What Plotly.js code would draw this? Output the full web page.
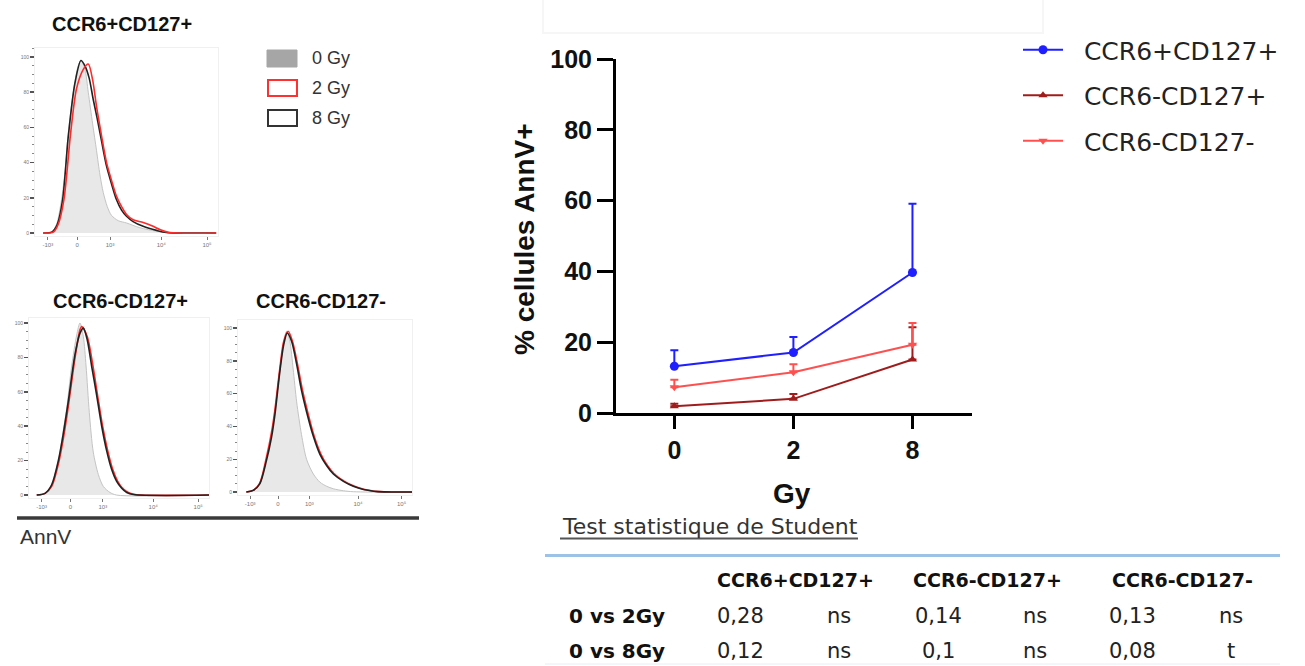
<!DOCTYPE html>
<html>
<head>
<meta charset="utf-8">
<script src="https://cdn.plot.ly/plotly-3.0.1.min.js"></script>
<style>
  html, body { margin: 0; padding: 0; background: #ffffff; }
  #chart { width: 1305px; height: 666px; }
</style>
</head>
<body>
<div id="chart"></div>
<script>
// ---------------- DATA ----------------
// Main line chart: % AnnV+ cells vs dose (Gy)
const doses = ["0", "2", "8"];
const seriesNames = ["CCR6+CD127+", "CCR6-CD127+", "CCR6-CD127-"];
const ccr6PosCd127Pos = [13.2, 17.1, 39.7];
const ccr6PosCd127PosErr = [4.5, 4.4, 19.4];
const ccr6NegCd127Pos = [1.9, 4.0, 15.1];
const ccr6NegCd127PosErr = [0.7, 1.4, 9.1];
const ccr6NegCd127Neg = [7.3, 11.5, 19.3];
const ccr6NegCd127NegErr = [2.1, 2.3, 6.1];

// Histograms (AnnV, display channel units 0-100, % of max)
const histTitles = ["CCR6+CD127+", "CCR6-CD127+", "CCR6-CD127-"];
const histDoseLabels = ["0 Gy", "2 Gy", "8 Gy"];
const histTickVals = [7, 23, 41, 69, 94];
const histTickText = ["-10³", "0", "10³", "10⁴", "10⁵"];
const histYTicks = [0, 20, 40, 60, 80, 100];

const h1GrayX = [4.5, 9.1, 11.8, 14.5, 16.4, 18.2, 20.9, 23.6, 25.1, 27.3, 29.1, 31.5, 33.6, 35.5, 37.3, 39.5, 41.8, 45.5, 50.0, 57.3, 66.4, 75.5, 99];
const h1GrayY = [0, 0.5, 5, 19, 35, 57, 80, 95, 98, 93, 80, 62, 47, 33, 23, 15, 10, 7, 5.7, 3, 1, 0, 0];
const h1RedX = [4.5, 10.0, 12.7, 15.8, 19.5, 22.7, 26.4, 29.1, 31.5, 33.6, 36.4, 39.1, 41.8, 44.5, 47.3, 50.0, 53.6, 59.1, 64.5, 68.2, 73.6, 99];
const h1RedY = [0, 0.5, 5, 19, 57, 82, 93, 96, 87, 72, 55, 40, 30, 21, 15, 10.5, 7.5, 6, 3.8, 2, 0.3, 0];
const h1BlackX = [4.5, 9.1, 12.2, 15.1, 18.2, 21.8, 25.1, 27.3, 29.6, 31.8, 34.0, 36.4, 39.1, 41.8, 44.5, 47.3, 50.0, 53.6, 59.1, 66.4, 71.8, 99];
const h1BlackY = [0, 0.5, 5, 19, 55, 85, 98, 95, 88, 76, 65, 52, 38, 28, 19, 13, 9.5, 6.5, 3.8, 1.5, 0.3, 0];

const h2GrayX = [4.3, 8.0, 11.7, 16.3, 19.1, 20.9, 23.7, 26.5, 28.3, 30.2, 31.7, 33.5, 35.7, 38.5, 41.3, 45.0, 48.7, 100];
const h2GrayY = [0, 0.5, 4, 20, 38, 50, 75, 93, 100, 92, 75, 48, 25, 12, 5, 1.5, 0, 0];
const h2RedX = [4.3, 8.9, 12.6, 16.3, 19.1, 21.9, 25.6, 28.3, 29.3, 32.4, 35.4, 38.1, 40.9, 43.7, 46.5, 49.3, 52.0, 55.2, 58.9, 100];
const h2RedY = [0, 1, 5, 18, 33, 52, 80, 96, 98, 92, 76, 58, 40, 26, 15, 8, 4, 1.5, 0.3, 0];
const h2BlackX = [4.3, 8.9, 12.6, 16.3, 19.1, 21.9, 25.6, 28.3, 30.2, 32.4, 34.8, 37.6, 40.4, 43.1, 45.9, 48.7, 51.5, 54.3, 58.0, 100];
const h2BlackY = [0, 1, 6, 20, 36, 55, 82, 94, 97, 90, 75, 58, 40, 26, 15, 8, 4, 1.5, 0.3, 0];

const h3GrayX = [4.8, 8.7, 12.5, 16.3, 19.2, 21.2, 24.0, 26.3, 27.9, 29.8, 31.7, 33.7, 36.5, 39.4, 43.3, 47.1, 51.0, 54.8, 60.6, 66.3, 100];
const h3GrayY = [0, 1, 5, 20, 35, 50, 75, 92, 98, 92, 75, 55, 35, 20, 11, 6, 3.5, 2, 0.8, 0.2, 0];
const h3RedX = [4.8, 8.7, 12.5, 16.3, 19.2, 21.2, 24.0, 26.3, 28.8, 31.3, 34.2, 37.1, 40.0, 43.8, 47.7, 51.5, 55.4, 61.2, 66.9, 72.7, 78.5, 84.2, 100];
const h3RedY = [0, 1, 5.5, 21, 36, 50, 75, 92, 98, 92, 78, 62, 49, 34, 23, 16, 11, 6.5, 3.5, 1.5, 0.5, 0.1, 0];
const h3BlackX = [4.8, 8.7, 12.5, 16.3, 19.2, 21.2, 24.0, 26.3, 28.3, 30.8, 33.7, 36.5, 39.4, 43.3, 47.1, 51.0, 54.8, 60.6, 66.3, 72.1, 77.9, 83.7, 100];
const h3BlackY = [0, 1, 5, 19, 33, 47, 73, 90, 97, 92, 78, 62, 49, 34, 23, 16, 11, 6.5, 3.5, 1.5, 0.5, 0.1, 0];

// Student test table
const tableTitle = "Test statistique de Student";
const tableRows = ["0 vs 2Gy", "0 vs 8Gy"];
const tableCols = ["CCR6+CD127+", "CCR6-CD127+", "CCR6-CD127-"];
const tablePValues = [["0,28", "0,14", "0,13"], ["0,12", "0,1", "0,08"]];
const tableSignif = [["ns", "ns", "ns"], ["ns", "ns", "t"]];

// ---------------- HELPERS ----------------
const W = 1305, H = 666;
const X = px => px / W;
const Y = py => 1 - py / H;

const BLUE = "#1f1fff", DARKRED = "#a01c1c", LIGHTRED = "#ff5050";
const ARIAL = "Liberation Sans, Arial, sans-serif";
const DEJA = "DejaVu Sans, sans-serif";
const NB = "\u00a0\u00a0";

function lineTrace(name, y, err, color, symbol, size) {
  return {
    type: "scatter", mode: "lines+markers", name: NB + name,
    x: doses, y: y, xaxis: "x", yaxis: "y",
    legendgroup: name,
    line: { color: color, width: 2 },
    marker: { color: color, symbol: symbol, size: size },
    error_y: { type: "data", symmetric: false, array: err, arrayminus: err.map(() => 0),
               color: color, thickness: 2, width: 4 },
    cliponaxis: false
  };
}

function histTrace(x, y, axisN, kind) {
  const t = { type: "scatter", mode: "lines", x: x, y: y,
              xaxis: "x" + axisN, yaxis: "y" + axisN, showlegend: false, hoverinfo: "skip",
              line: { shape: "spline", smoothing: 0.8, width: 1.6 } };
  if (kind === "gray") {
    t.fill = "tozeroy"; t.fillcolor = "#e8e8e8"; t.line.color = "#c4c4c4"; t.line.width = 1;
  } else if (kind === "red") {
    t.line.color = "#ff2a2a";
  } else {
    t.line.color = "#222222";
  }
  return t;
}

const traces = [
  lineTrace(seriesNames[0], ccr6PosCd127Pos, ccr6PosCd127PosErr, BLUE, "circle", 9),
  lineTrace(seriesNames[1], ccr6NegCd127Pos, ccr6NegCd127PosErr, DARKRED, "triangle-up", 8),
  lineTrace(seriesNames[2], ccr6NegCd127Neg, ccr6NegCd127NegErr, LIGHTRED, "triangle-down", 8),
  histTrace(h1GrayX, h1GrayY, 2, "gray"),
  histTrace(h1BlackX, h1BlackY, 2, "black"),
  histTrace(h1RedX, h1RedY, 2, "red"),
  histTrace(h2GrayX, h2GrayY, 3, "gray"),
  histTrace(h2RedX, h2RedY, 3, "red"),
  histTrace(h2BlackX, h2BlackY, 3, "black"),
  histTrace(h3GrayX, h3GrayY, 4, "gray"),
  histTrace(h3RedX, h3RedY, 4, "red"),
  histTrace(h3BlackX, h3BlackY, 4, "black")
];

function histX(domain, anchor) {
  return { domain: domain, anchor: anchor, range: [0, 100], showgrid: false, zeroline: false,
           showline: true, linecolor: "#f0f0f0", linewidth: 1, mirror: true,
           tickmode: "array", tickvals: histTickVals, ticktext: histTickText,
           ticks: "outside", ticklen: 3, tickwidth: 1, tickcolor: "#777",
           tickfont: { family: ARIAL, size: 6, color: "#777" }, fixedrange: true };
}
function histY(domain, anchor, range) {
  return { domain: domain, anchor: anchor, range: range, showgrid: false, zeroline: false,
           showline: true, linecolor: "#f0f0f0", linewidth: 1, mirror: true,
           tickmode: "array", tickvals: histYTicks, ticktext: histYTicks.map(String),
           ticks: "outside", ticklen: 4, tickwidth: 1.5, tickcolor: "#555",
           minor: { dtick: 5, ticks: "outside", ticklen: 2, tickwidth: 1, tickcolor: "#888" },
           tickfont: { family: ARIAL, size: 5, color: "#777" }, fixedrange: true };
}

const annotations = [];
function txt(text, x, y, size, opts) {
  opts = opts || {};
  annotations.push(Object.assign({
    text: text, x: X(x), y: Y(y), xref: "paper", yref: "paper", showarrow: false,
    xanchor: "center", yanchor: "middle",
    font: { family: opts.family || ARIAL, size: size, color: opts.color || "#111" }
  }, opts.extra || {}));
}

// main chart axis titles
txt("<b>% cellules AnnV+</b>", 525, 239, 28, { extra: { textangle: -90 } });
txt("<b>Gy</b>", 792, 493, 28);

// histogram titles
txt("<b>" + histTitles[0] + "</b>", 122, 24, 20);
txt("<b>" + histTitles[1] + "</b>", 120, 301, 20);
txt("<b>" + histTitles[2] + "</b>", 321, 301, 20);
// histogram legend labels
txt(histDoseLabels[0], 310, 58, 18, { color: "#333", extra: { xanchor: "left" } });
txt(histDoseLabels[1], 310, 88, 18, { color: "#333", extra: { xanchor: "left" } });
txt(histDoseLabels[2], 310, 118, 18, { color: "#333", extra: { xanchor: "left" } });
txt("AnnV", 18, 536, 21, { color: "#333", extra: { xanchor: "left" } });

// table
txt(tableTitle, 560, 526, 22, { family: DEJA, color: "#333", extra: { xanchor: "left" } });
const colCenters = [795, 987, 1182];
const pCenters = [741, 938, 1132];
const sCenters = [839, 1035, 1231];
const headerY = 580;
const rowYs = [616, 651];
tableCols.forEach((c, i) => txt("<b>" + c + "</b>", colCenters[i], headerY, 19, { family: DEJA, color: "#111" }));
tableRows.forEach((r, j) => {
  txt("<b>" + r + "</b>", 567, rowYs[j], 20, { family: DEJA, color: "#111", extra: { xanchor: "left" } });
  tablePValues[j].forEach((v, i) => txt(v, pCenters[i], rowYs[j], 21, { family: DEJA, color: "#222" }));
  tableSignif[j].forEach((v, i) => txt(v, sCenters[i], rowYs[j], 21, { family: DEJA, color: "#222" }));
});

const shapes = [
  // faint box at top
  { type: "rect", xref: "paper", yref: "paper", x0: X(543), x1: X(1043), y0: Y(33), y1: Y(-2),
    line: { color: "#f6f6f6", width: 2 } },
  // histogram legend boxes
  { type: "rect", xref: "paper", yref: "paper", x0: X(267), x1: X(297), y0: Y(67), y1: Y(50),
    fillcolor: "#a6a6a6", line: { color: "#a6a6a6", width: 1 } },
  { type: "rect", xref: "paper", yref: "paper", x0: X(268), x1: X(297), y0: Y(96), y1: Y(80),
    fillcolor: "rgba(0,0,0,0)", line: { color: "#ff3030", width: 2 } },
  { type: "rect", xref: "paper", yref: "paper", x0: X(268), x1: X(297), y0: Y(126), y1: Y(110),
    fillcolor: "rgba(0,0,0,0)", line: { color: "#333333", width: 2 } },
  // thick line under histograms
  { type: "line", xref: "paper", yref: "paper", x0: X(17), x1: X(419), y0: Y(518), y1: Y(518),
    line: { color: "#3a3a3a", width: 3.5 } },
  // underline of table title
  { type: "line", xref: "paper", yref: "paper", x0: X(560), x1: X(858), y0: Y(538.5), y1: Y(538.5),
    line: { color: "#555555", width: 2 } },
  // blue table rule
  { type: "line", xref: "paper", yref: "paper", x0: X(545), x1: X(1280), y0: Y(555.5), y1: Y(555.5),
    line: { color: "#9cc2e5", width: 3 } },
  // faint bottom rule
  { type: "line", xref: "paper", yref: "paper", x0: X(545), x1: X(1280), y0: Y(664), y1: Y(664),
    line: { color: "#e6eef7", width: 1 } }
];

const layout = {
  width: W, height: H,
  margin: { l: 0, r: 0, t: 0, b: 0 },
  paper_bgcolor: "#ffffff", plot_bgcolor: "rgba(0,0,0,0)",
  showlegend: true,
  legend: { x: X(1018), y: Y(27), xanchor: "left", yanchor: "top",
            font: { family: DEJA, size: 25, color: "#222" },
            itemwidth: 40, tracegroupgap: 10, traceorder: "grouped",
            bgcolor: "rgba(0,0,0,0)" },
  xaxis: { domain: [X(616), X(972)], anchor: "y", type: "category", range: [-0.49, 2.5],
           showgrid: false, zeroline: false, showline: true, linecolor: "#000", linewidth: 3,
           ticks: "outside", ticklen: 13, tickwidth: 3, tickcolor: "#000",
           tickfont: { family: ARIAL, size: 25, color: "#111", weight: "bold" }, fixedrange: true },
  yaxis: { domain: [Y(413), Y(59)], anchor: "x", range: [0, 100],
           tickvals: [0, 20, 40, 60, 80, 100],
           showgrid: false, zeroline: false, showline: true, linecolor: "#000", linewidth: 3,
           ticks: "outside", ticklen: 16, tickwidth: 3, tickcolor: "#000",
           tickfont: { family: ARIAL, size: 25, color: "#111", weight: "bold" }, fixedrange: true },
  xaxis2: histX([X(35), X(218)], "y2"),
  yaxis2: histY([Y(236), Y(48)], "x2", [-1.7, 105.1]),
  xaxis3: histX([X(29), X(209)], "y3"),
  yaxis3: histY([Y(498), Y(318)], "x3", [-1.7, 102.9]),
  xaxis4: histX([X(238), X(412)], "y4"),
  yaxis4: histY([Y(495), Y(320)], "x4", [-1.8, 104.9]),
  annotations: annotations,
  shapes: shapes
};

Plotly.newPlot("chart", traces, layout, { staticPlot: true, displayModeBar: false });
</script>
</body>
</html>
